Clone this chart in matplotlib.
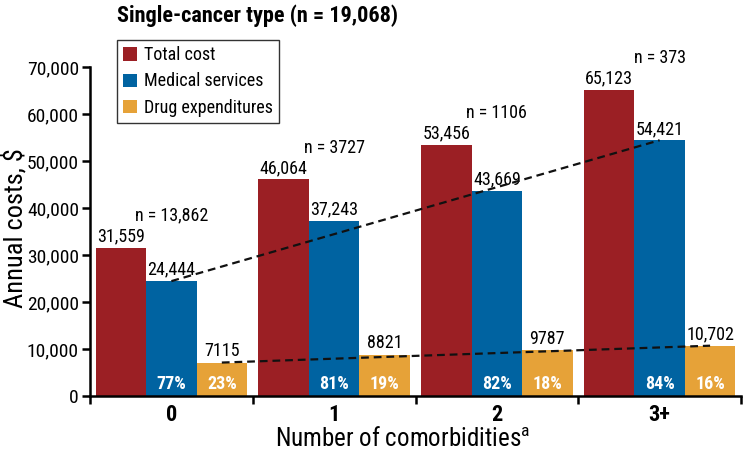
import matplotlib
matplotlib.use("Agg")
import matplotlib.pyplot as plt
from matplotlib import font_manager
from matplotlib.patches import Patch

names = {f.name for f in font_manager.fontManager.ttflist}
candidates = ["Liberation Sans Narrow", "Roboto Condensed", "Archivo Narrow", "PT Sans Narrow",
              "Fira Sans Condensed", "IBM Plex Sans Condensed", "Encode Sans Condensed",
              "Open Sans Condensed", "DejaVu Sans"]
FONT = next(c for c in candidates if c in names)
plt.rcParams['font.family'] = [FONT, 'DejaVu Sans']
plt.rcParams['mathtext.fontset'] = 'custom'
plt.rcParams['mathtext.rm'] = FONT

categories = ["0", "1", "2", "3+"]
n_labels = ["n = 13,862", "n = 3727", "n = 1106", "n = 373"]
total = [31559, 46064, 53456, 65123]
medical = [24444, 37243, 43669, 54421]
drug = [7115, 8821, 9787, 10702]
total_lbl = ["31,559", "46,064", "53,456", "65,123"]
medical_lbl = ["24,444", "37,243", "43,669", "54,421"]
drug_lbl = ["7115", "8821", "9787", "10,702"]
medical_pct = ["77%", "81%", "82%", "84%"]
drug_pct = ["23%", "19%", "18%", "16%"]
series_names = ["Total cost", "Medical services", "Drug expenditures"]

RED = "#9B1F24"
BLUE = "#0063A1"
ORANGE = "#E6A238"

fig = plt.figure(figsize=(7.43, 4.5), dpi=100)
ax = fig.add_axes([90/743, 1-396/450, 651/743, 329/450])

w = 0.31
x = list(range(len(categories)))
xr = [i - w for i in x]
xb = [i for i in x]
xo = [i + w for i in x]
ax.bar(xr, total, width=w, color=RED, zorder=2)
ax.bar(xb, medical, width=w, color=BLUE, zorder=2)
ax.bar(xo, drug, width=w, color=ORANGE, zorder=2)

fs = 13
for i in x:
    ax.text(xr[i], total[i] + 500, total_lbl[i], ha='center', va='bottom', fontsize=fs)
    ax.text(xb[i], medical[i] + 500, medical_lbl[i], ha='center', va='bottom', fontsize=fs)
    ax.text(xo[i], drug[i] + 500, drug_lbl[i], ha='center', va='bottom', fontsize=fs)
    ax.text(i, total[i] + 6800, n_labels[i], ha='center', va='center', fontsize=fs, clip_on=False)
    ax.text(xb[i], 2600, medical_pct[i], ha='center', va='center', fontsize=13, color='white', fontweight='bold')
    ax.text(xo[i], 2600, drug_pct[i], ha='center', va='center', fontsize=13, color='white', fontweight='bold')

ax.plot([xb[0], xb[-1]], [medical[0], medical[-1]], ls=(0, (3.5, 2.2)), color='#111111', lw=1.6, zorder=3)
ax.plot([xo[0], xo[-1]], [drug[0], drug[-1]], ls=(0, (3.5, 2.2)), color='#111111', lw=1.6, zorder=3)

ax.set_xlim(-0.5, 3.5)
ax.set_ylim(0, 70000)
ax.set_yticks(range(0, 70001, 10000))
ax.set_yticklabels(["0"] + [f"{v:,}" for v in range(10000, 70001, 10000)], fontsize=14)
ax.set_xticks([-0.5, 0.5, 1.5, 2.5, 3.5])
ax.set_xticklabels([])
ax.set_xticks(x, minor=True)
ax.set_xticklabels(categories, minor=True, fontsize=16, fontweight='bold')
ax.tick_params(axis='x', which='major', direction='out', length=6, width=1.8)
ax.tick_params(axis='x', which='minor', length=0, pad=6)
ax.tick_params(axis='y', direction='out', length=6, width=1.8, pad=2)
for s in ['top', 'right']:
    ax.spines[s].set_visible(False)
for s in ['left', 'bottom']:
    ax.spines[s].set_linewidth(1.8)

fig.text(403/743, 1-439/450, r"Number of comorbidities$^{\mathrm{a}}$", fontsize=18,
         ha='center', va='center')
fig.text(15/743, 1-228/450, "Annual costs, $", fontsize=19, rotation=90,
         ha='center', va='center')

fig.text(117/743, 1-16/450, "Single-cancer type (n = 19,068)", fontsize=16, fontweight='bold',
         ha='left', va='center')

handles = [Patch(facecolor=c, edgecolor='none') for c in (RED, BLUE, ORANGE)]
leg = fig.legend(handles, series_names, loc='upper left', bbox_to_anchor=(117/743, 1-40/450),
                 bbox_transform=fig.transFigure, fontsize=13, frameon=True, fancybox=False,
                 handlelength=0.75, handleheight=0.75, handletextpad=0.4, borderpad=0.35,
                 labelspacing=0.45, borderaxespad=0)
leg.get_frame().set_edgecolor('black')
leg.get_frame().set_linewidth(1.0)

fig.savefig("out.png", dpi=100)
